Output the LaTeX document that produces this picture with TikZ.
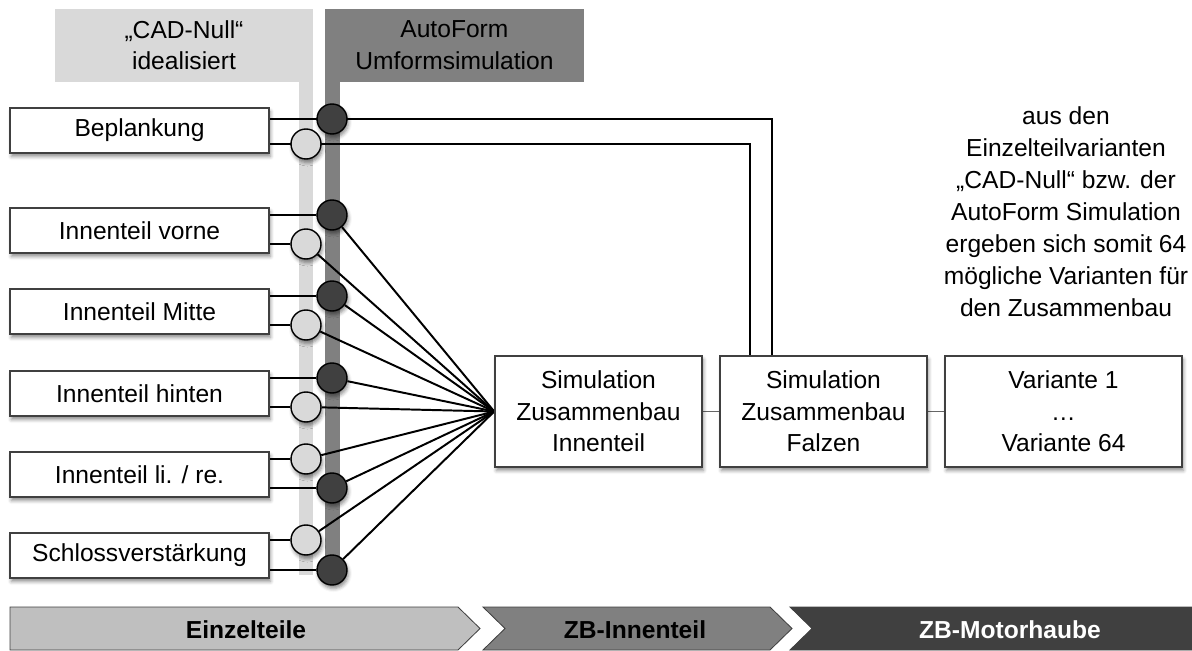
\documentclass[tikz,border=0pt]{standalone}
\usepackage{fontspec}
\setmainfont{Liberation Sans}
\usetikzlibrary{shadows.blur}

\pgfdeclarelayer{unten}
\pgfsetlayers{unten,main}

\definecolor{hell}{HTML}{D9D9D9}
\definecolor{mittel}{HTML}{808080}
\definecolor{dunkel}{HTML}{404040}
\definecolor{balken}{HTML}{BFBFBF}

\begin{document}
\begin{tikzpicture}[font=\fontsize{17.5}{22.4}\selectfont,
  schatten/.style={blur shadow={shadow xshift=1pt, shadow yshift=-2.5pt,
      shadow blur radius=2.5pt, shadow opacity=45}},
  teil/.style={draw=dunkel, line width=1.1pt, fill=white, inner sep=0pt,
      minimum width=6.475cm, minimum height=1.125cm, schatten},
  sim/.style={teil, minimum width=5.175cm, minimum height=2.775cm, align=center},
  cad/.style={circle, draw=black, line width=1pt, fill=hell, inner sep=0pt,
      minimum size=0.75cm, schatten},
  af/.style={cad, fill=dunkel},
  wire/.style={line width=1.4pt},
  link/.style={line width=0.8pt, draw=dunkel!80},
  stufe/.style={draw=dunkel, line width=0.6pt}]
  \useasboundingbox (0,0) rectangle (29.8,16.25);

  \node[align=center] (cadkopf) at (4.6,15.125) {„CAD-Null“\\idealisiert};
  \node[align=center] (afkopf) at (11.36,15.125) {AutoForm\\Umformsimulation};

  \node[teil] (bepl)    at (3.4875,12.9875) {Beplankung};
  \node[teil] (vorne)   at (3.4875,10.4875) {Innenteil vorne};
  \node[teil] (mitte)   at (3.4875,8.4625)  {Innenteil Mitte};
  \node[teil] (hinten)  at (3.4875,6.4125)  {Innenteil hinten};
  \node[teil] (lire)    at (3.4875,4.3875)  {Innenteil li. / re.};
  \node[teil] (schloss) at (3.4875,2.3625)  {Schlossverstärkung};

  \node[af]  (b1) at (8.3,13.275) {};
  \node[cad] (b2) at (7.65,12.65) {};
  \node[af]  (v1) at (8.3,10.875) {};
  \node[cad] (v2) at (7.65,10.15) {};
  \node[af]  (m1) at (8.3,8.85)   {};
  \node[cad] (m2) at (7.65,8.125) {};
  \node[af]  (h1) at (8.3,6.8)    {};
  \node[cad] (h2) at (7.65,6.075) {};
  \node[cad] (l1) at (7.65,4.775) {};
  \node[af]  (l2) at (8.3,4.05)   {};
  \node[cad] (s1) at (7.65,2.75)  {};
  \node[af]  (s2) at (8.3,2.0)    {};

  \node[sim] (inn)  at (14.9625,5.9625) {Simulation\\Zusammenbau\\Innenteil};
  \node[sim] (falz) at (20.5875,5.9625) {Simulation\\Zusammenbau\\Falzen};
  \node[sim, minimum width=5.925cm] (var) at (26.5875,5.9625) {Variante 1\\…\\Variante 64};

  \node[align=center, font=\fontsize{17.5}{22.8}\selectfont] (info) at (26.65,10.95)
    {aus den\\Einzelteilvarianten\\„CAD-Null“ bzw. der\\AutoForm Simulation\\
     ergeben sich somit 64\\mögliche Varianten für\\den Zusammenbau};

  \begin{pgfonlayer}{unten}
    % Spalten fuer CAD-Null und AutoForm
    \fill[hell] (1.375,14.2) rectangle (7.825,16.025);
    \fill[hell] (7.475,14.2) rectangle (7.825,1.875);
    \fill[mittel] (8.125,14.2) rectangle (14.6,16.025);
    \fill[mittel] (8.125,14.2) rectangle (8.5,1.75);

    \draw[wire] (bepl.east |- b1) -| ([xshift=-1.29cm]falz.north);
    \draw[wire] (bepl.east |- b2) -| ([xshift=-1.84cm]falz.north);
    \foreach \t/\a/\b in {vorne/v1/v2, mitte/m1/m2, hinten/h1/h2, lire/l1/l2, schloss/s1/s2} {
      \draw[wire] (\t.east |- \a) -- (\a) -- (inn.west);
      \draw[wire] (\t.east |- \b) -- (\b) -- (inn.west);
    }
    \draw[link] (inn.east) -- (falz.west);
    \draw[link] (falz.east) -- (var.west);
  \end{pgfonlayer}

  \filldraw[stufe, fill=balken] (0.25,1.075) -- (11.45,1.075) -- (12.0,0.5375)
    -- (11.45,0) -- (0.25,0) -- cycle;
  \filldraw[stufe, fill=mittel] (12.075,1.075) -- (19.25,1.075) -- (19.8,0.5375)
    -- (19.25,0) -- (12.075,0) -- (12.625,0.5375) -- cycle;
  \filldraw[stufe, fill=dunkel] (19.75,1.075) -- (29.8,1.075) -- (29.8,0)
    -- (19.75,0) -- (20.3,0.5375) -- cycle;
  \node[font=\fontsize{17.5}{20}\bfseries] (einzel) at (6.15,0.5)  {Einzelteile};
  \node[font=\fontsize{17.5}{20}\bfseries] (zbinn)  at (15.875,0.5) {ZB-Innenteil};
  \node[font=\fontsize{17.5}{20}\bfseries, text=white] (zbmh) at (25.25,0.5) {ZB-Motorhaube};
\end{tikzpicture}
\end{document}
